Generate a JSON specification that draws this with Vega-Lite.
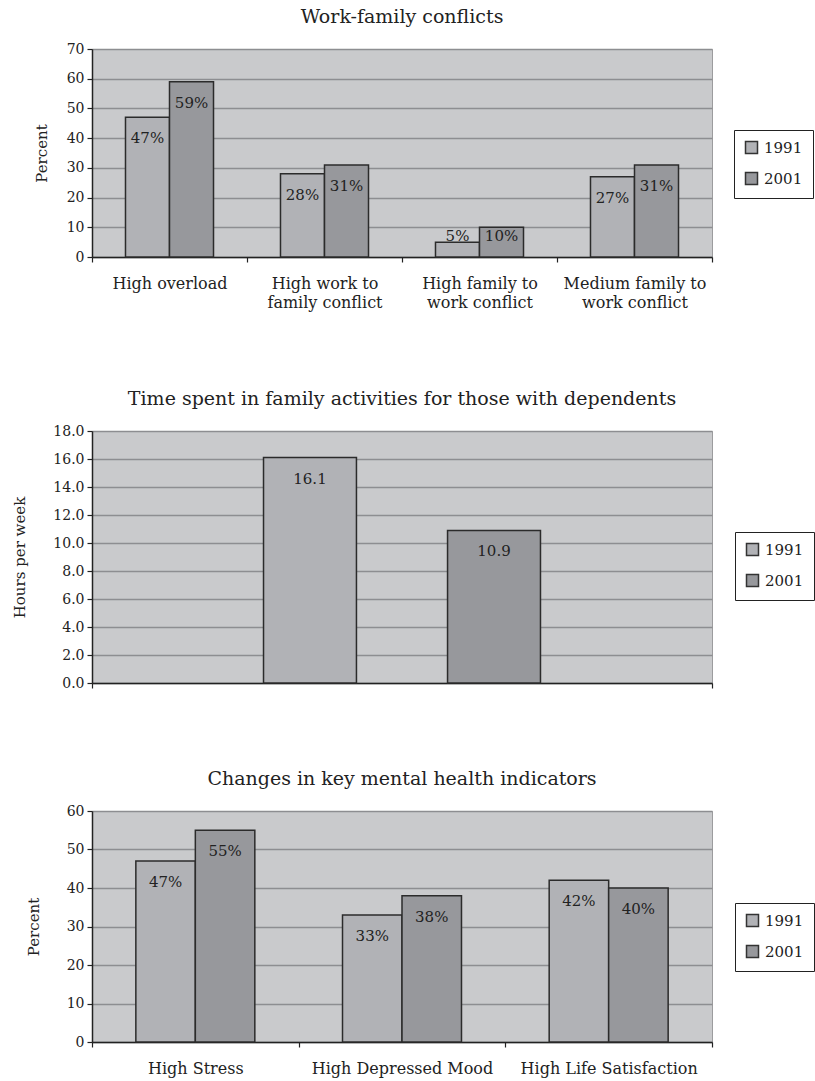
{
  "$schema": "https://vega.github.io/schema/vega-lite/v6.json",
  "background": "white",
  "padding": {"left": 12, "top": 7, "right": 5, "bottom": 5},
  "spacing": 78,
  "config": {
    "font": "DejaVu Serif",
    "view": {"fill": "#c9cacc", "stroke": "#9c9c9e", "strokeWidth": 1},
    "axis": {
      "labelFont": "DejaVu Serif",
      "labelFontSize": 14,
      "labelColor": "#222222",
      "titleFont": "DejaVu Serif",
      "titleFontSize": 15,
      "titleFontWeight": "normal",
      "titleColor": "#222222",
      "domainColor": "#222222",
      "domainWidth": 1.5,
      "tickColor": "#222222",
      "tickSize": 5,
      "tickWidth": 1.2,
      "gridColor": "#8d8e91",
      "gridWidth": 1.5,
      "labelOverlap": false,
      "labelLimit": 300
    },
    "axisX": {"grid": false, "tickBand": "extent", "labelAngle": 0, "labelFontSize": 16, "labelPadding": 13, "labelBaseline": "top", "labelLineHeight": 19, "title": null},
    "axisY": {"grid": true, "labelPadding": 3},
    "title": {"font": "DejaVu Serif", "fontSize": 19, "fontWeight": "normal", "color": "#222222", "anchor": "middle", "offset": 15},
    "legend": {
      "orient": "none",
      "title": null,
      "strokeColor": "#222222",
      "fillColor": "white",
      "padding": 10,
      "symbolType": "square",
      "symbolSize": 144,
      "symbolStrokeColor": "#333333",
      "symbolStrokeWidth": 1.2,
      "symbolOpacity": 1,
      "labelFont": "DejaVu Serif",
      "labelFontSize": 15,
      "labelColor": "#222222",
      "labelOffset": 5,
      "rowPadding": 12
    },
    "bar": {"stroke": "#2b2b2b", "strokeWidth": 1.5},
    "text": {"font": "DejaVu Serif", "fontSize": 15, "color": "#222222"}
  },
  "resolve": {
    "scale": {"x": "independent", "xOffset": "independent", "y": "independent"},
    "axis": {"x": "independent", "y": "independent"},
    "legend": {"color": "independent"}
  },
  "vconcat": [
    {
      "title": "Work-family conflicts",
      "width": 620,
      "height": 208,
      "data": {"values": [
        {"category": "High overload", "year": "1991", "value": 47},
        {"category": "High overload", "year": "2001", "value": 59},
        {"category": "High work to\nfamily conflict", "year": "1991", "value": 28},
        {"category": "High work to\nfamily conflict", "year": "2001", "value": 31},
        {"category": "High family to\nwork conflict", "year": "1991", "value": 5},
        {"category": "High family to\nwork conflict", "year": "2001", "value": 10},
        {"category": "Medium family to\nwork conflict", "year": "1991", "value": 27},
        {"category": "Medium family to\nwork conflict", "year": "2001", "value": 31}
      ]},
      "encoding": {
        "x": {"field": "category", "type": "nominal", "sort": null,
              "scale": {"paddingInner": 0, "paddingOuter": 0},
              "axis": {"labelExpr": "datum.value ? split(datum.value, '\\n') : ''"}},
        "xOffset": {"field": "year", "type": "nominal", "scale": {"paddingInner": 0, "paddingOuter": 0.761}},
        "y": {"field": "value", "type": "quantitative",
              "scale": {"domain": [0, 70]},
              "axis": {"title": "Percent", "values": [0, 10, 20, 30, 40, 50, 60, 70], "titlePadding": 17}}
      },
      "layer": [
        {
          "mark": "bar",
          "encoding": {
            "color": {"field": "year", "type": "nominal",
                      "scale": {"domain": ["1991", "2001"], "range": ["#b1b2b6", "#97989c"]},
                      "legend": {"legendX": 642, "legendY": 81}}
          }
        },
        {
          "transform": [
            {"calculate": "datum.value + '%'", "as": "label"},
            {"calculate": "max(datum.value, 14)", "as": "labelPos"}
          ],
          "mark": {"type": "text", "baseline": "middle", "dy": 21},
          "encoding": {
            "y": {"field": "labelPos", "type": "quantitative",
                  "axis": {"title": "Percent", "values": [0, 10, 20, 30, 40, 50, 60, 70], "titlePadding": 17}},
            "text": {"field": "label"}
          }
        }
      ]
    },
    {
      "title": "Time spent in family activities for those with dependents",
      "width": 620,
      "height": 252,
      "data": {"values": [
        {"category": "Family activities", "year": "1991", "value": 16.1},
        {"category": "Family activities", "year": "2001", "value": 10.9}
      ]},
      "encoding": {
        "x": {"field": "category", "type": "nominal",
              "scale": {"paddingInner": 0, "paddingOuter": 0},
              "axis": {"labels": false}},
        "xOffset": {"field": "year", "type": "nominal", "scale": {"paddingInner": 0.495, "paddingOuter": 0.932}},
        "y": {"field": "value", "type": "quantitative",
              "scale": {"domain": [0, 18]},
              "axis": {"title": "Hours per week", "values": [0, 2, 4, 6, 8, 10, 12, 14, 16, 18], "format": ".1f", "titlePadding": 25}}
      },
      "layer": [
        {
          "mark": "bar",
          "encoding": {
            "color": {"field": "year", "type": "nominal",
                      "scale": {"domain": ["1991", "2001"], "range": ["#b1b2b6", "#97989c"]},
                      "legend": {"legendX": 643, "legendY": 101}}
          }
        },
        {
          "mark": {"type": "text", "baseline": "middle", "dy": 21},
          "encoding": {
            "text": {"field": "value", "type": "quantitative", "format": ".1f"}
          }
        }
      ]
    },
    {
      "title": "Changes in key mental health indicators",
      "width": 620,
      "height": 231,
      "data": {"values": [
        {"category": "High Stress", "year": "1991", "value": 47},
        {"category": "High Stress", "year": "2001", "value": 55},
        {"category": "High Depressed Mood", "year": "1991", "value": 33},
        {"category": "High Depressed Mood", "year": "2001", "value": 38},
        {"category": "High Life Satisfaction", "year": "1991", "value": 42},
        {"category": "High Life Satisfaction", "year": "2001", "value": 40}
      ]},
      "encoding": {
        "x": {"field": "category", "type": "nominal", "sort": null,
              "scale": {"paddingInner": 0, "paddingOuter": 0}},
        "xOffset": {"field": "year", "type": "nominal", "scale": {"paddingInner": 0, "paddingOuter": 0.737}},
        "y": {"field": "value", "type": "quantitative",
              "scale": {"domain": [0, 60]},
              "axis": {"title": "Percent", "values": [0, 10, 20, 30, 40, 50, 60], "titlePadding": 25}}
      },
      "layer": [
        {
          "mark": "bar",
          "encoding": {
            "color": {"field": "year", "type": "nominal",
                      "scale": {"domain": ["1991", "2001"], "range": ["#b1b2b6", "#97989c"]},
                      "legend": {"legendX": 643, "legendY": 92}}
          }
        },
        {
          "transform": [{"calculate": "datum.value + '%'", "as": "label"}],
          "mark": {"type": "text", "baseline": "middle", "dy": 21},
          "encoding": {
            "text": {"field": "label"}
          }
        }
      ]
    }
  ]
}
